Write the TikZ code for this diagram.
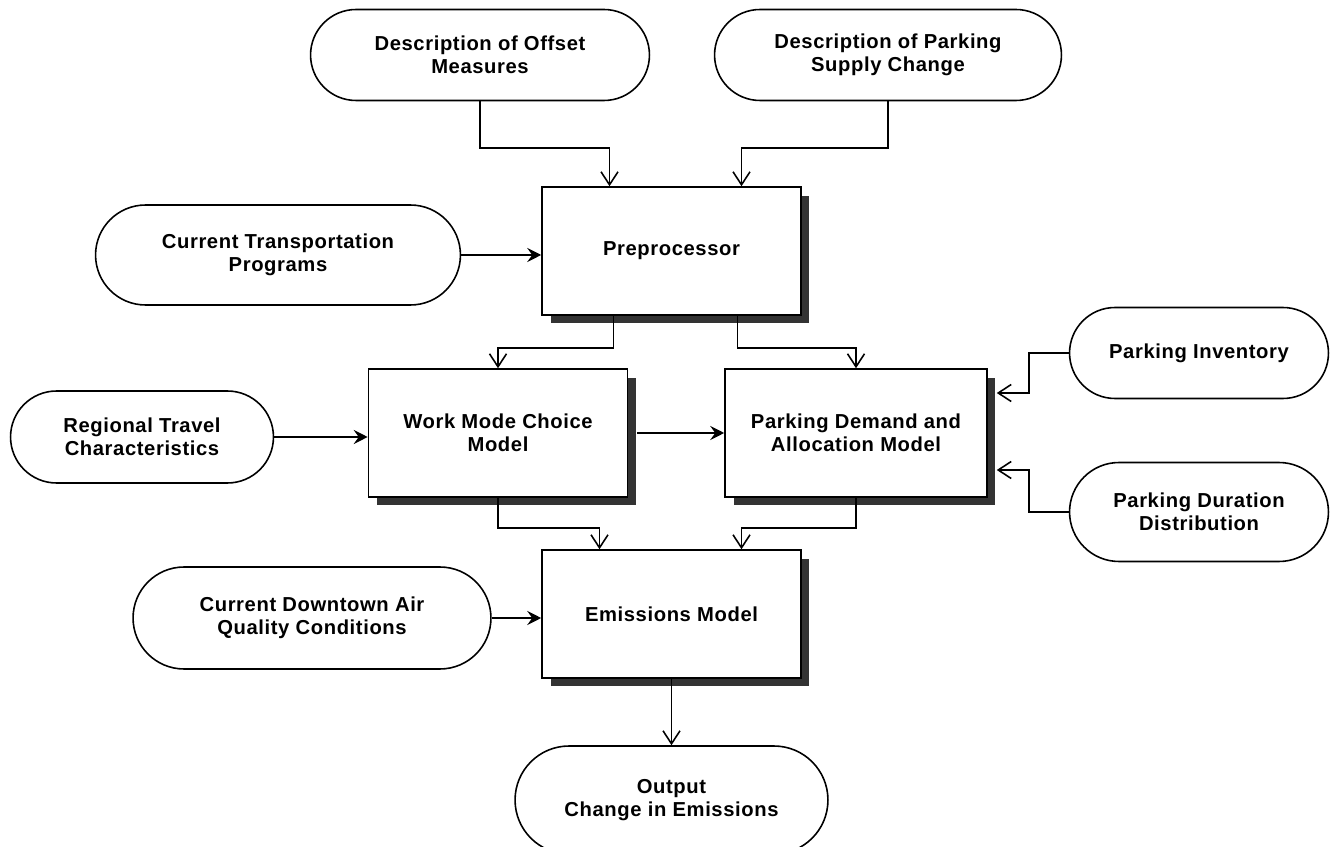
\documentclass[tikz,border=0pt]{standalone}
\usepackage{fontspec}
\setmainfont{Liberation Sans}[LetterSpace=3]
\usepackage{tikz}
\usetikzlibrary{shapes.misc, arrows.meta, shadows, calc}
\tikzset{
  inputoval/.style={rounded rectangle, draw, line width=0.9pt, fill=white,
                    align=center, inner sep=2pt,
                    font=\bfseries\fontsize{11.5}{13}\selectfont},
  modelbox/.style={rectangle, draw, line width=0.9pt, fill=white,
                   minimum width=5.18cm, minimum height=2.56cm, align=center,
                   font=\bfseries\fontsize{11.5}{13}\selectfont,
                   drop shadow={shadow xshift=0.17cm, shadow yshift=-0.17cm,
                                fill=black!80, opacity=1}},
  arrow/.style={-{Straight Barb[length=2.6mm, width=3.4mm]}, line width=0.9pt},
  harrow/.style={-{Stealth[length=2.8mm, width=2.8mm, inset=1mm]}, line width=0.9pt},
}

\begin{document}
\begin{tikzpicture}[x=0.02cm, y=-0.02cm]
  \useasboundingbox (0,0) rectangle (1332,847);

  % inputs on top
  \node[inputoval, minimum width=6.92cm, minimum height=1.82cm] (offs) at (480,55)
    {Description of Offset\\ Measures};
  \node[inputoval, minimum width=7.08cm, minimum height=1.82cm] (supp) at (888,55)
    {Description of Parking\\ Supply Change};

  % models
  \node[modelbox] (pre) at (671.5,251) {Preprocessor};
  \node[modelbox] (wm) at (498,433) {Work Mode Choice\\ Model};
  \node[modelbox, minimum width=5.24cm] (pk) at (856,433) {Parking Demand and\\ Allocation Model};
  \node[modelbox] (em) at (671.5,614) {Emissions Model};

  % side inputs
  \node[inputoval, minimum width=7.44cm, minimum height=2.0cm] (curtr) at (278,255)
    {Current Transportation\\ Programs};
  \node[inputoval, minimum width=5.4cm, minimum height=1.84cm] (regn) at (142,437)
    {Regional Travel\\ Characteristics};
  \node[inputoval, minimum width=7.3cm, minimum height=2.04cm] (airq) at (312,618)
    {Current Downtown Air\\ Quality Conditions};
  \node[inputoval, minimum width=5.32cm, minimum height=1.82cm] (pinv) at (1199,353)
    {Parking Inventory};
  \node[inputoval, minimum width=5.32cm, minimum height=1.98cm] (pdur) at (1199,512)
    {Parking Duration\\ Distribution};

  % output
  \node[inputoval, minimum width=6.4cm, minimum height=2.16cm] (outp) at (671.5,800)
    {Output\\ Change in Emissions};

  % connectors
  \draw[arrow] (offs.south) -- ++(0,47) -| ($(pre.north)+(-62,0)$);
  \draw[arrow] (supp.south) -- ++(0,47) -| ($(pre.north)+(70,0)$);
  \draw[harrow] (curtr.east) -- (curtr.east -| pre.west);

  \draw[arrow] ($(pre.south)+(-58,0)$) -- ++(0,32) -| (wm.north);
  \draw[arrow] ($(pre.south)+(66,0)$) -- ++(0,32) -| (pk.north);
  \draw[harrow] (regn.east) -- (regn.east -| wm.west);
  \draw[harrow] ($(wm.east)+(9,0)$) -- (pk.west);

  \draw[arrow] (pinv.west) -- ++(-40,0) |- ($(pk.east)+(9,-40)$);
  \draw[arrow] (pdur.west) -- ++(-40,0) |- ($(pk.east)+(9,37)$);

  \draw[arrow] (wm.south) -- ++(0,30) -| ($(em.north)+(-72,0)$);
  \draw[arrow] (pk.south) -- ++(0,30) -| ($(em.north)+(70,0)$);
  \draw[harrow] (airq.east) -- (airq.east -| em.west);

  \draw[arrow] (em.south) -- (outp.north);
\end{tikzpicture}
\end{document}
